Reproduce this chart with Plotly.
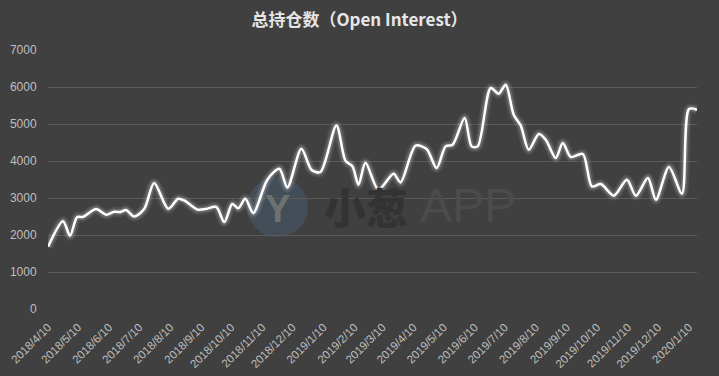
import plotly.graph_objects as go

dates = [
    "2018-04-10", "2018-04-25", "2018-05-02", "2018-05-09", "2018-05-15", "2018-05-28",
    "2018-06-07", "2018-06-15", "2018-06-21", "2018-06-27", "2018-07-05", "2018-07-15",
    "2018-07-25", "2018-08-08", "2018-08-18", "2018-08-24", "2018-09-06", "2018-09-14",
    "2018-09-25", "2018-10-03", "2018-10-11", "2018-10-17", "2018-10-24", "2018-11-01",
    "2018-11-15", "2018-11-27", "2018-12-05", "2018-12-19", "2018-12-29", "2019-01-07",
    "2019-01-23", "2019-02-01", "2019-02-08", "2019-02-14", "2019-02-21", "2019-03-06",
    "2019-03-21", "2019-03-28", "2019-04-12", "2019-04-23", "2019-05-03", "2019-05-12",
    "2019-05-19", "2019-05-31", "2019-06-07", "2019-06-13", "2019-06-26", "2019-07-04",
    "2019-07-11", "2019-07-19", "2019-07-26", "2019-08-03", "2019-08-13", "2019-08-20",
    "2019-08-30", "2019-09-06", "2019-09-14", "2019-09-26", "2019-10-05", "2019-10-14",
    "2019-10-27", "2019-11-09", "2019-11-18", "2019-11-30", "2019-12-08", "2019-12-21",
    "2020-01-03", "2020-01-10", "2020-01-18",
]
open_interest = [
    1680, 2370, 1980, 2480, 2490, 2700,
    2550, 2630, 2620, 2675, 2500, 2700,
    3405, 2710, 2980, 2935, 2690, 2700,
    2757, 2350, 2838, 2720, 2980, 2595,
    3495, 3790, 3286, 4332, 3765, 3703,
    4962, 4008, 3854, 3359, 3950, 3224,
    3657, 3422, 4414, 4324, 3811, 4395,
    4441, 5162, 4395, 4395, 5973, 5819,
    6062, 5251, 4960, 4305, 4730, 4576,
    4081, 4486, 4108, 4189, 3314, 3378,
    3062, 3495, 3062, 3541, 2954, 3838,
    3116, 5405, 5386,
]

tick_dates = [
    "2018-04-10", "2018-05-10", "2018-06-10", "2018-07-10", "2018-08-10", "2018-09-10",
    "2018-10-10", "2018-11-10", "2018-12-10", "2019-01-10", "2019-02-10", "2019-03-10",
    "2019-04-10", "2019-05-10", "2019-06-10", "2019-07-10", "2019-08-10", "2019-09-10",
    "2019-10-10", "2019-11-10", "2019-12-10", "2020-01-10",
]
tick_labels = [
    "2018/4/10", "2018/5/10", "2018/6/10", "2018/7/10", "2018/8/10", "2018/9/10",
    "2018/10/10", "2018/11/10", "2018/12/10", "2019/1/10", "2019/2/10", "2019/3/10",
    "2019/4/10", "2019/5/10", "2019/6/10", "2019/7/10", "2019/8/10", "2019/9/10",
    "2019/10/10", "2019/11/10", "2019/12/10", "2020/1/10",
]
y_ticks = [0, 1000, 2000, 3000, 4000, 5000, 6000, 7000]

BG = "#404040"

fig = go.Figure()
# glow layers
for w, a in [(10, 0.08), (6, 0.16)]:
    fig.add_trace(go.Scatter(
        x=dates, y=open_interest, mode="lines",
        line=dict(color=f"rgba(255,255,255,{a})", width=w, shape="spline", smoothing=0.8),
        hoverinfo="skip", showlegend=False,
    ))
fig.add_trace(go.Scatter(
    x=dates, y=open_interest, mode="lines", name="总持仓数",
    line=dict(color="#ffffff", width=2.5, shape="spline", smoothing=0.8),
    showlegend=False,
))

# watermark
fig.add_shape(type="circle", xref="paper", yref="paper",
              x0=(247 - 48) / 649, x1=(308 - 48) / 649,
              y0=(309 - 237) / 259, y1=(309 - 177) / 259,
              fillcolor="rgba(70,95,120,0.45)", line=dict(width=0), layer="below")
fig.add_annotation(x=(277 - 48) / 649, y=(309 - 209) / 259, xref="paper", yref="paper",
                   text="<b>Y</b>", showarrow=False,
                   font=dict(family="Liberation Sans", size=38, color="rgba(120,125,115,0.8)"))
fig.add_annotation(x=(366 - 48) / 649, y=(309 - 205) / 259, xref="paper", yref="paper",
                   text="小葱", showarrow=False,
                   font=dict(family="Noto Sans CJK SC", size=42, color="#333333", weight=900))
fig.add_annotation(x=(468 - 48) / 649, y=(309 - 205) / 259, xref="paper", yref="paper",
                   text="APP", showarrow=False,
                   font=dict(family="Liberation Sans", size=48, color="#4b4b4b"))

fig.update_layout(
    width=719, height=376,
    paper_bgcolor=BG, plot_bgcolor=BG,
    margin=dict(l=48, r=22, t=50, b=67, autoexpand=False),
    title=dict(text="<b>总持仓数（Open Interest）</b>", x=0.5, xanchor="center",
               y=1 - 20 / 376, yanchor="middle", automargin=False,
               font=dict(family="Noto Sans CJK SC", size=17, color="#e6e6e6")),
    xaxis=dict(
        type="date", range=["2018-04-10", "2020-01-18"], automargin=False,
        tickvals=tick_dates, ticktext=tick_labels, tickangle=-45,
        showgrid=False, zeroline=False, showline=False,
        ticks="outside", ticklen=6, tickcolor="rgba(0,0,0,0)",
        tickfont=dict(family="Liberation Sans", size=11.5, color="#bfbfbf"),
    ),
    yaxis=dict(
        range=[0, 7000], tickvals=y_ticks, automargin=False,
        showgrid=True, gridcolor="#5a5a5a", gridwidth=1,
        zeroline=False, showline=False,
        ticks="outside", ticklen=8, tickcolor="rgba(0,0,0,0)",
        tickfont=dict(family="Liberation Sans", size=12, color="#bfbfbf"),
    ),
)

fig.write_html(
    "out.html",
    config={"displayModeBar": False},
    post_script="document.body.style.margin='0';document.body.style.background='#404040';",
)
